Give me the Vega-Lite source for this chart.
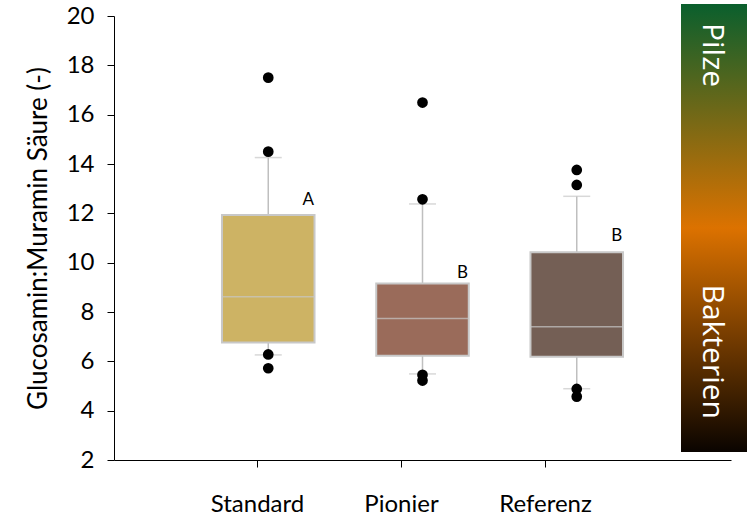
{
  "$schema": "https://vega.github.io/schema/vega-lite/v6.json",
  "width": 617,
  "height": 444,
  "autosize": {"type": "none"},
  "padding": {"left": 114, "top": 16, "right": 20, "bottom": 55},
  "background": "white",
  "config": {
    "view": {"stroke": null},
    "font": "Lato",
    "axis": {
      "grid": false,
      "domainColor": "#000000",
      "domainWidth": 1,
      "tickColor": "#000000",
      "tickWidth": 1,
      "labelColor": "#000000",
      "titleColor": "#000000",
      "labelFont": "Lato",
      "titleFont": "Lato",
      "titleFontWeight": "normal"
    }
  },
  "datasets": {
    "kennwerte": [
      {"Variante": "Standard", "unten": 6.26, "q1": 6.76, "median": 8.62, "q3": 11.93, "oben": 14.26},
      {"Variante": "Pionier", "unten": 5.49, "q1": 6.23, "median": 7.74, "q3": 9.16, "oben": 12.38},
      {"Variante": "Referenz", "unten": 4.89, "q1": 6.19, "median": 7.40, "q3": 10.42, "oben": 12.69}
    ],
    "ausreisser": [
      {"Variante": "Standard", "Wert": 17.5},
      {"Variante": "Standard", "Wert": 14.5},
      {"Variante": "Standard", "Wert": 6.28},
      {"Variante": "Standard", "Wert": 5.72},
      {"Variante": "Pionier", "Wert": 16.49},
      {"Variante": "Pionier", "Wert": 12.57},
      {"Variante": "Pionier", "Wert": 5.45},
      {"Variante": "Pionier", "Wert": 5.22},
      {"Variante": "Referenz", "Wert": 13.76},
      {"Variante": "Referenz", "Wert": 13.15},
      {"Variante": "Referenz", "Wert": 4.88},
      {"Variante": "Referenz", "Wert": 4.57}
    ],
    "buchstaben": [
      {"Variante": "Standard", "Gruppe": "A", "Wert": 12.54},
      {"Variante": "Pionier", "Gruppe": "B", "Wert": 9.58},
      {"Variante": "Referenz", "Gruppe": "B", "Wert": 11.08}
    ],
    "skala": [
      {"Pol": "Pilze", "Anteil": 1},
      {"Pol": "Bakterien", "Anteil": 0}
    ]
  },
  "layer": [
    {
      "encoding": {
        "x": {
          "field": "Variante",
          "type": "nominal",
          "sort": ["Standard", "Pionier", "Referenz"],
          "scale": {"type": "band", "domain": ["Standard", "Pionier", "Referenz"], "paddingInner": 0.4, "paddingOuter": 0.7, "align": 0.5},
          "axis": {"orient": "bottom", "title": null, "labels": false, "ticks": false, "domain": true}
        }
      },
      "layer": [
        {
          "data": {"name": "kennwerte"},
          "mark": {"type": "rule", "color": "#bfbfbf", "strokeWidth": 1.5},
          "encoding": {
            "y": {
              "field": "unten",
              "type": "quantitative",
              "title": "Glucosamin:Muramin Säure (-)",
              "scale": {"domain": [2, 20], "nice": false, "zero": false},
              "axis": {
                "values": [2, 4, 6, 8, 10, 12, 14, 16, 18, 20],
                "labelFontSize": 24,
                "titleFontSize": 26,
                "tickSize": 7,
                "labelPadding": 13,
                "titlePadding": 15
              }
            },
            "y2": {"field": "oben"}
          }
        },
        {
          "data": {"name": "kennwerte"},
          "mark": {"type": "tick", "color": "#c8c8c8", "size": 27, "thickness": 1.5, "orient": "horizontal"},
          "encoding": {"y": {"field": "unten", "type": "quantitative"}}
        },
        {
          "data": {"name": "kennwerte"},
          "mark": {"type": "tick", "color": "#c8c8c8", "size": 27, "thickness": 1.5, "orient": "horizontal"},
          "encoding": {"y": {"field": "oben", "type": "quantitative"}}
        },
        {
          "data": {"name": "kennwerte"},
          "mark": {"type": "bar", "stroke": "#c8c8c8", "strokeWidth": 2},
          "encoding": {
            "y": {"field": "q1", "type": "quantitative"},
            "y2": {"field": "q3"},
            "color": {
              "field": "Variante",
              "type": "nominal",
              "scale": {"domain": ["Standard", "Pionier", "Referenz"], "range": ["#cdb364", "#9a6b5a", "#745f55"]},
              "legend": null
            }
          }
        },
        {
          "data": {"name": "kennwerte"},
          "mark": {"type": "tick", "color": "#c8c8c8", "size": 92, "thickness": 1.5, "orient": "horizontal"},
          "encoding": {"y": {"field": "median", "type": "quantitative"}}
        },
        {
          "data": {"name": "ausreisser"},
          "mark": {"type": "point", "filled": true, "color": "#000000", "size": 115, "opacity": 1},
          "encoding": {"y": {"field": "Wert", "type": "quantitative"}}
        },
        {
          "data": {"name": "buchstaben"},
          "mark": {"type": "text", "font": "Lato", "fontSize": 17, "color": "#000000", "align": "center", "baseline": "middle", "dx": 40},
          "encoding": {
            "y": {"field": "Wert", "type": "quantitative"},
            "text": {"field": "Gruppe"}
          }
        }
      ]
    },
    {
      "data": {"name": "kennwerte"},
      "mark": {"type": "point", "opacity": 0},
      "encoding": {
        "x": {
          "field": "Variante",
          "type": "nominal",
          "sort": ["Standard", "Pionier", "Referenz"],
          "scale": {"type": "point", "domain": ["Standard", "Pionier", "Referenz"], "range": [143, 431], "padding": 0},
          "axis": {"orient": "bottom", "title": null, "domain": false, "labelFontSize": 24, "tickSize": 7, "labelPadding": 25, "labelAngle": 0}
        }
      }
    },
    {
      "data": {"name": "skala"},
      "encoding": {
        "x": {
          "datum": "Pilze/Bakterien",
          "type": "nominal",
          "scale": {"type": "band", "range": [567, 633], "paddingInner": 0, "paddingOuter": 0},
          "axis": null
        }
      },
      "layer": [
        {
          "mark": {
            "type": "rect",
            "color": {
              "gradient": "linear",
              "x1": 0, "y1": 0, "x2": 0, "y2": 1,
              "stops": [
                {"offset": 0, "color": "#0a5f2d"},
                {"offset": 0.5, "color": "#dc7200"},
                {"offset": 1, "color": "#0a0400"}
              ]
            }
          },
          "encoding": {
            "y": {"aggregate": "min", "field": "Anteil", "type": "quantitative", "scale": {"domain": [0, 1], "range": [436, -12]}, "axis": null},
            "y2": {"aggregate": "max", "field": "Anteil"}
          }
        },
        {
          "transform": [{"filter": "datum.Pol === 'Pilze'"}],
          "mark": {"type": "text", "font": "Open Sans", "fontSize": 30, "color": "#ffffff", "angle": 90, "align": "left", "baseline": "middle", "dx": 19, "dy": 2},
          "encoding": {
            "y": {"field": "Anteil", "type": "quantitative"},
            "text": {"field": "Pol"}
          }
        },
        {
          "transform": [{"filter": "datum.Pol === 'Bakterien'"}],
          "mark": {"type": "text", "font": "Open Sans", "fontSize": 30, "color": "#ffffff", "angle": 90, "align": "right", "baseline": "middle", "dx": -33, "dy": 2},
          "encoding": {
            "y": {"field": "Anteil", "type": "quantitative"},
            "text": {"field": "Pol"}
          }
        }
      ]
    }
  ],
  "resolve": {
    "scale": {"x": "independent", "y": "independent"},
    "axis": {"x": "independent", "y": "independent"}
  }
}
